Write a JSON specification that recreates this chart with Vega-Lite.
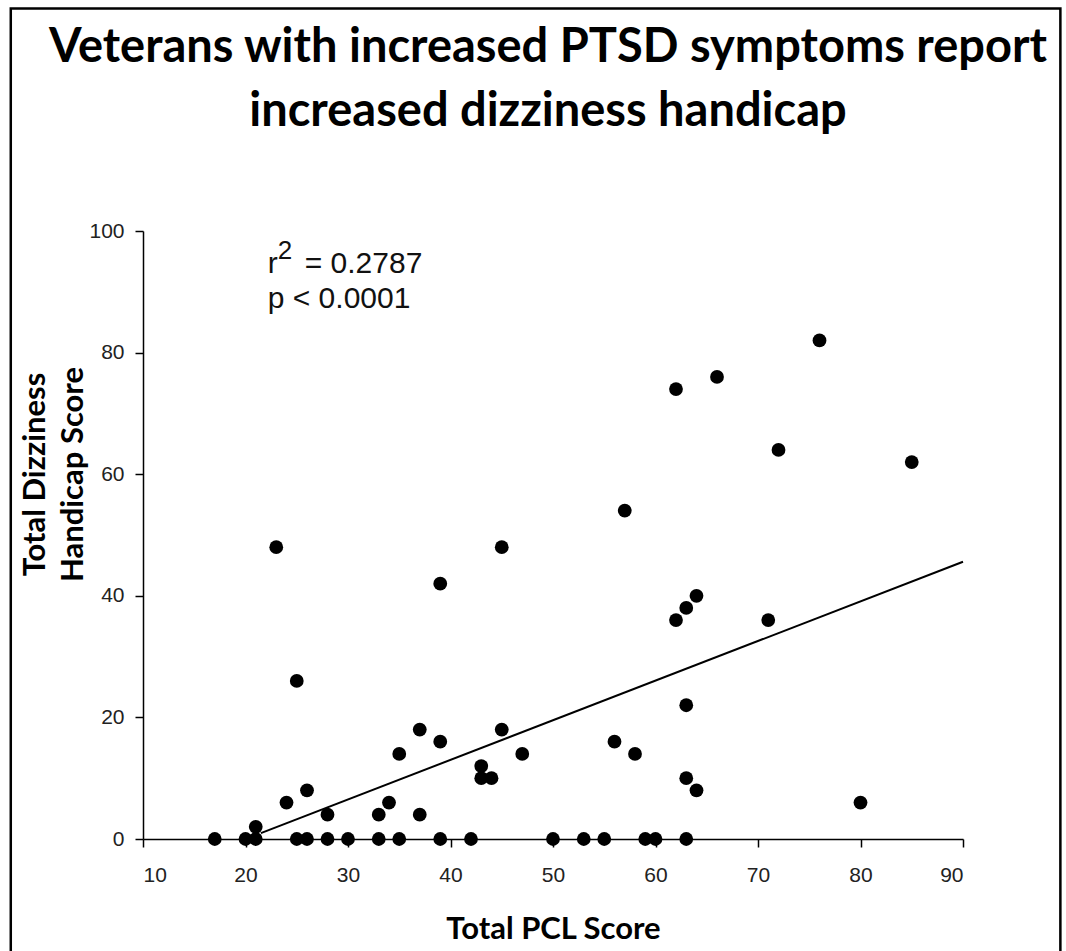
{
  "$schema": "https://vega.github.io/schema/vega-lite/v6.json",
  "width": 820,
  "height": 608,
  "autosize": {"type": "none"},
  "padding": {"left": 143, "top": 231, "right": 103, "bottom": 112},
  "background": "white",
  "title": {
    "text": ["Veterans with increased PTSD symptoms report", "increased dizziness handicap"],
    "font": "Lato",
    "fontWeight": "bold",
    "fontSize": 47,
    "lineHeight": 64,
    "anchor": "middle",
    "offset": -129,
    "dx": -5,
    "color": "black"
  },
  "config": {
    "view": {"stroke": null},
    "axis": {
      "grid": false,
      "domainColor": "black",
      "domainWidth": 1.5,
      "tickColor": "black",
      "tickWidth": 1.5,
      "tickSize": 8,
      "labelFont": "Liberation Sans",
      "labelFontSize": 21,
      "labelColor": "#222222",
      "titleFont": "Lato",
      "titleFontWeight": "bold",
      "titleFontSize": 31,
      "titleColor": "black"
    }
  },
  "layer": [
    {
      "data": {"values": [{}]},
      "mark": {"type": "rect", "filled": false, "stroke": "black", "strokeWidth": 2.5, "clip": false},
      "encoding": {
        "x": {"datum": -2.9, "type": "quantitative", "scale": {"domain": [10, 90], "nice": false, "zero": false}},
        "x2": {"datum": 99.5},
        "y": {"datum": 136.6, "type": "quantitative", "scale": {"domain": [0, 100], "nice": false}},
        "y2": {"datum": -19.5}
      }
    },
    {
      "data": {"values": [
        {"pcl": 17, "dhi": 0}, {"pcl": 20, "dhi": 0}, {"pcl": 21, "dhi": 0}, {"pcl": 21, "dhi": 2},
        {"pcl": 25, "dhi": 26}, {"pcl": 24, "dhi": 6}, {"pcl": 26, "dhi": 8}, {"pcl": 25, "dhi": 0},
        {"pcl": 26, "dhi": 0}, {"pcl": 28, "dhi": 4}, {"pcl": 28, "dhi": 0}, {"pcl": 30, "dhi": 0},
        {"pcl": 33, "dhi": 4}, {"pcl": 33, "dhi": 0}, {"pcl": 34, "dhi": 6}, {"pcl": 35, "dhi": 14},
        {"pcl": 35, "dhi": 0}, {"pcl": 37, "dhi": 18}, {"pcl": 37, "dhi": 4}, {"pcl": 39, "dhi": 16},
        {"pcl": 39, "dhi": 0}, {"pcl": 42, "dhi": 0}, {"pcl": 43, "dhi": 12}, {"pcl": 43, "dhi": 10},
        {"pcl": 44, "dhi": 10}, {"pcl": 45, "dhi": 18}, {"pcl": 47, "dhi": 14}, {"pcl": 50, "dhi": 0},
        {"pcl": 53, "dhi": 0}, {"pcl": 55, "dhi": 0}, {"pcl": 59, "dhi": 0}, {"pcl": 60, "dhi": 0},
        {"pcl": 63, "dhi": 0}, {"pcl": 63, "dhi": 22}, {"pcl": 56, "dhi": 16}, {"pcl": 58, "dhi": 14},
        {"pcl": 63, "dhi": 10}, {"pcl": 64, "dhi": 8}, {"pcl": 80, "dhi": 6}, {"pcl": 23, "dhi": 48},
        {"pcl": 39, "dhi": 42}, {"pcl": 45, "dhi": 48}, {"pcl": 76, "dhi": 82}, {"pcl": 62, "dhi": 74},
        {"pcl": 66, "dhi": 76}, {"pcl": 72, "dhi": 64}, {"pcl": 85, "dhi": 62}, {"pcl": 57, "dhi": 54},
        {"pcl": 62, "dhi": 36}, {"pcl": 63, "dhi": 38}, {"pcl": 64, "dhi": 40}, {"pcl": 71, "dhi": 36}
      ]},
      "mark": {"type": "circle", "size": 190, "color": "black", "opacity": 1},
      "encoding": {
        "x": {
          "field": "pcl", "type": "quantitative",
          "scale": {"domain": [10, 90], "nice": false, "zero": false},
          "axis": {"values": [10, 20, 30, 40, 50, 60, 70, 80, 90], "labelPadding": 17, "title": "Total PCL Score", "titlePadding": 29}
        },
        "y": {
          "field": "dhi", "type": "quantitative",
          "scale": {"domain": [0, 100], "nice": false},
          "axis": {"values": [0, 20, 40, 60, 80, 100], "labelPadding": 11, "title": ["Total Dizziness", "Handicap Score"], "titleY": 243, "titleLineHeight": 38, "titlePadding": -1}
        }
      }
    },
    {
      "data": {"values": [{"pcl": 21.5, "dhi": 0.96}, {"pcl": 90, "dhi": 45.6}]},
      "mark": {"type": "line", "color": "black", "strokeWidth": 2},
      "encoding": {
        "x": {"field": "pcl", "type": "quantitative"},
        "y": {"field": "dhi", "type": "quantitative"}
      }
    },
    {
      "data": {"values": [{}]},
      "mark": {"type": "text", "text": "r", "font": "Liberation Sans", "fontSize": 30, "align": "left", "baseline": "alphabetic", "color": "#111111"},
      "encoding": {"x": {"datum": 22.17, "type": "quantitative"}, "y": {"datum": 93.05, "type": "quantitative"}}
    },
    {
      "data": {"values": [{}]},
      "mark": {"type": "text", "text": "2", "font": "Liberation Sans", "fontSize": 26, "align": "left", "baseline": "alphabetic", "color": "#111111"},
      "encoding": {"x": {"datum": 23.15, "type": "quantitative"}, "y": {"datum": 95.4, "type": "quantitative"}}
    },
    {
      "data": {"values": [{}]},
      "mark": {"type": "text", "text": "= 0.2787", "font": "Liberation Sans", "fontSize": 30, "align": "left", "baseline": "alphabetic", "color": "#111111"},
      "encoding": {"x": {"datum": 25.78, "type": "quantitative"}, "y": {"datum": 93.05, "type": "quantitative"}}
    },
    {
      "data": {"values": [{}]},
      "mark": {"type": "text", "text": "p < 0.0001", "font": "Liberation Sans", "fontSize": 30, "align": "left", "baseline": "alphabetic", "color": "#111111"},
      "encoding": {"x": {"datum": 22.17, "type": "quantitative"}, "y": {"datum": 87.3, "type": "quantitative"}}
    }
  ]
}
